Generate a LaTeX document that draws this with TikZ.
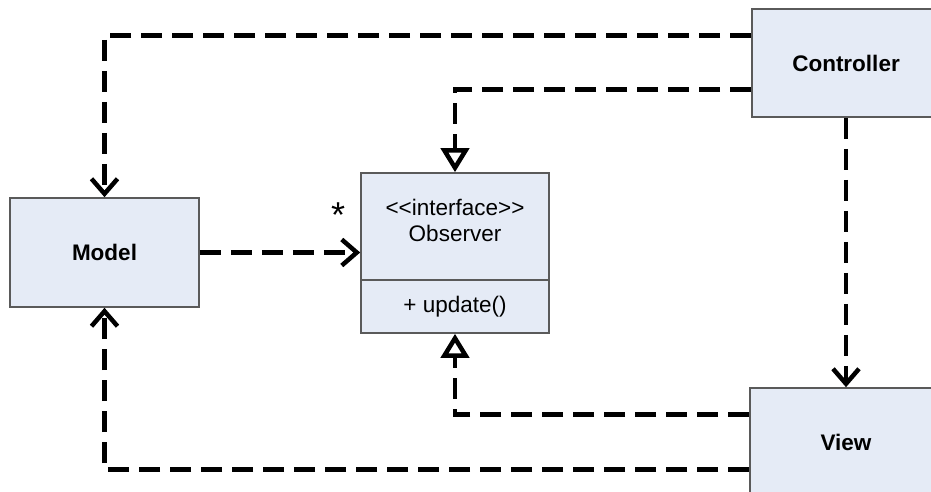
\documentclass[tikz,border=0pt]{standalone}
\usepackage{fontspec}
\setmainfont{Liberation Sans}
\usetikzlibrary{arrows.meta,calc}
\definecolor{boxfill}{HTML}{E5EBF6}
\definecolor{boxline}{HTML}{5A5A5A}

\begin{document}
\begin{tikzpicture}[x=1pt,y=-1pt,
  umlbox/.style={draw=boxline, line width=1.6pt, fill=boxfill, inner sep=0pt,
                 font=\fontsize{22.5}{26}\selectfont},
  classname/.style={umlbox, font=\fontsize{22.5}{26}\selectfont\bfseries},
  dep/.style={line width=4.5pt, dash pattern=on 21pt off 10pt,
              -{Straight Barb[length=15pt,width=26pt]}},
  realize/.style={line width=4.5pt, dash pattern=on 21pt off 10pt,
              -{Triangle[open,length=24pt,width=28pt,fill=white]}},
]
\useasboundingbox (0,0) rectangle (931,492);
\clip (0,0) rectangle (931,492);

% classes
\node[classname, minimum width=189pt, minimum height=109pt] (model) at (104.5,252.5) {Model};
\node[umlbox, minimum width=188pt, minimum height=107pt] (obsTop) at (455,226.5) {};
\node[umlbox, minimum width=188pt, minimum height=53pt] (obsBot) at (455,306.5) {+ update()};
\node[align=center, font=\fontsize{22.5}{26}\selectfont, inner sep=0pt] (obsName) at (455,220)
  {<\kern0pt<interface>\kern0pt>\\Observer};
\node[classname, minimum width=188pt, minimum height=108pt] (ctrl) at (846,63) {Controller};
\node[classname, minimum width=192pt, minimum height=108pt] (view) at (846,442) {View};

% multiplicity
\node[anchor=north, inner sep=0pt, font=\fontsize{36}{36}\selectfont] (mult) at (338,203) {*};

% attachment points on the left sides of Controller and View
\coordinate (c1) at ($(ctrl.north west)!0.25!(ctrl.south west)$);
\coordinate (c2) at ($(ctrl.north west)!0.74!(ctrl.south west)$);
\coordinate (v1) at ($(view.north west)!0.25!(view.south west)$);
\coordinate (v2) at ($(view.north west)!0.75!(view.south west)$);

% connectors
\draw[dep] (c1) -| (model.north);
\draw[realize] (c2) -| (obsTop.north);
\draw[dep] (ctrl.south) -- (view.north);
\draw[dep] (model.east) -- (model.east -| obsTop.west);
\draw[realize] (v1) -| (obsBot.south);
\draw[dep] (v2) -| (model.south);
\end{tikzpicture}
\end{document}
